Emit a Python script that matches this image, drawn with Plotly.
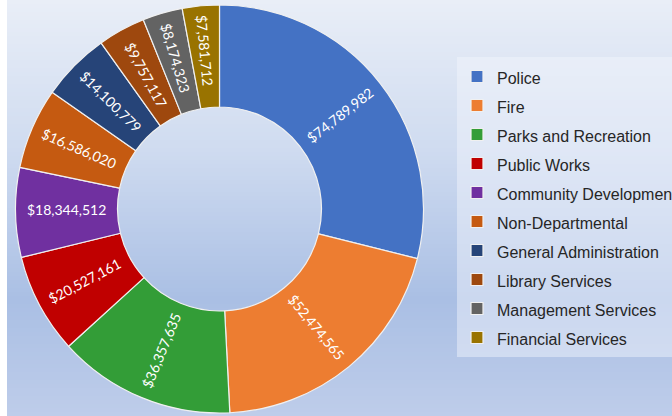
import plotly.graph_objects as go

departments = ["Police", "Fire", "Parks and Recreation", "Public Works",
               "Community Development", "Non-Departmental", "General Administration",
               "Library Services", "Management Services", "Financial Services"]
budget = [74789982, 52474565, 36357635, 20527161, 18344512,
          16586020, 14100779, 9757117, 8174323, 7581712]
colors = ["#4472c4", "#ed7d31", "#339d37", "#c00000", "#7030a0",
          "#c55a11", "#264478", "#9e480e", "#636363", "#997300"]

W, H = 672, 416
DOMAIN = dict(x=[15.5 / W, 423.5 / W], y=[3 / H, 411 / H])
TEXTFONT = dict(family="Lato", size=14, color="white")

legend_labels = [f"<span style='font-size:16px'>{d}</span>" for d in departments]
value_text = [f"${v:,.0f}" for v in budget]

# main donut: every slice, labels for all except the first (drawn by the overlay below)
main_tt = ["" if i == 0 else "%{text}" for i in range(len(budget))]

fig = go.Figure()
fig.add_trace(go.Pie(
    labels=legend_labels,
    values=budget,
    text=value_text,
    texttemplate=main_tt,
    sort=False,
    direction="clockwise",
    rotation=0,
    hole=0.5,
    marker=dict(colors=colors, line=dict(color="#f0f0f0", width=1.2)),
    textposition="inside",
    insidetextorientation="radial",
    textfont=TEXTFONT,
    domain=DOMAIN,
    hoverinfo="skip",
))

# transparent overlay so the first slice's label stays radial at its mid-angle
total = sum(budget)
quarter = total / 4
p_edge = budget[0] - quarter
overlay_vals = [p_edge, budget[0] - 2 * p_edge, p_edge] + budget[1:]
overlay_tt = ["", value_text[0], ""] + [""] * (len(budget) - 1)
fig.add_trace(go.Pie(
    labels=[f"o{i}" for i in range(len(overlay_vals))],
    values=overlay_vals,
    text=overlay_tt,
    texttemplate="%{text}",
    sort=False,
    direction="clockwise",
    rotation=0,
    hole=0.5,
    marker=dict(colors=["rgba(0,0,0,0)"] * len(overlay_vals), line=dict(width=0)),
    textposition="inside",
    insidetextorientation="radial",
    textfont=TEXTFONT,
    domain=DOMAIN,
    showlegend=False,
    hoverinfo="skip",
))

# background vertical gradient
stops = [(0, (233, 238, 247)), (150, (207, 219, 240)), (300, (170, 191, 228)), (416, (190, 205, 234))]

def col_at(y):
    for (y0, c0), (y1, c1) in zip(stops[:-1], stops[1:]):
        if y0 <= y <= y1:
            t = (y - y0) / (y1 - y0)
            return "rgb(%d,%d,%d)" % tuple(round(a + (b - a) * t) for a, b in zip(c0, c1))
    return "rgb(%d,%d,%d)" % stops[-1][1]

shapes = []
step = 4
for y in range(0, H, step):
    shapes.append(dict(type="rect", xref="paper", yref="paper", layer="below",
                       x0=0, x1=1, y0=1 - (y + step + 0.5) / H, y1=1 - y / H,
                       fillcolor=col_at(y + step / 2), line=dict(width=0)))
shapes.append(dict(type="rect", xref="paper", yref="paper", layer="below",
                   x0=0, x1=7 / W, y0=0, y1=1, fillcolor="white", line=dict(width=0)))

fig.update_layout(
    width=W, height=H,
    margin=dict(l=0, r=0, t=0, b=0, autoexpand=False),
    paper_bgcolor="white",
    plot_bgcolor="rgba(0,0,0,0)",
    shapes=shapes,
    showlegend=True,
    legend=dict(
        x=457 / W, y=1 - 57 / H, xanchor="left", yanchor="top",
        bgcolor="rgba(245,247,252,0.45)",
        font=dict(family="Liberation Sans, Arial", size=20, color="#262626"),
        traceorder="normal",
    ),
)

fig.write_html("out.html", config={"displayModeBar": False},
               post_script="document.body.style.margin='0';")
